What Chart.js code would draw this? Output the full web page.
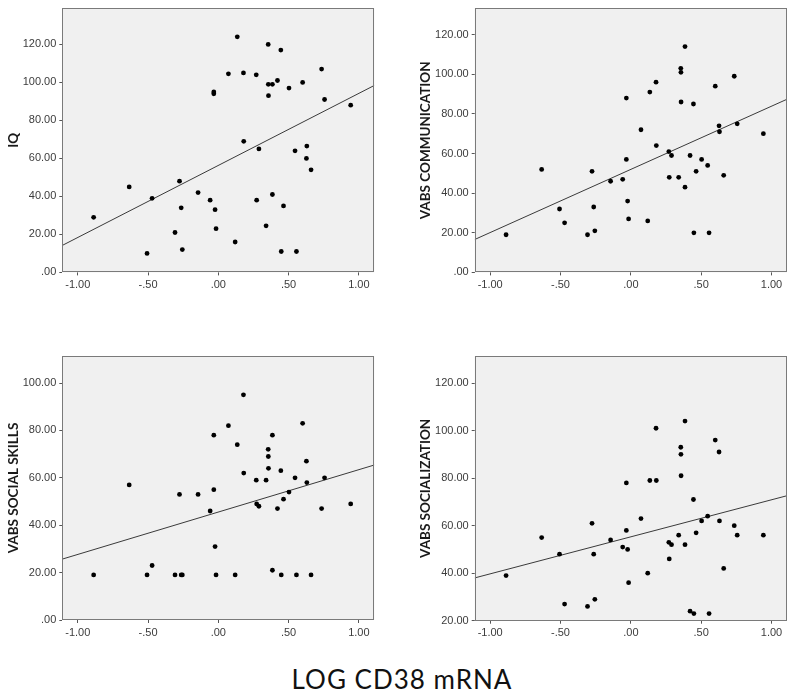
<!DOCTYPE html>
<html>
<head>
<meta charset="utf-8">
<title>CD38 scatter plots</title>
<script src="https://cdn.jsdelivr.net/npm/chart.js@4.4.1/dist/chart.umd.min.js"></script>
<style>
  body { margin: 0; background: #fff; }
  #wrap { position: relative; width: 798px; height: 696px; overflow: hidden; }
  #wrap canvas { position: absolute; }
  #xTitle {
    position: absolute; left: 3px; top: 666px; width: 798px;
    text-align: center; font-family: Lato, "Noto Sans", sans-serif;
    font-size: 26px; line-height: 26px; letter-spacing: 1px; color: #111;
  }
</style>
</head>
<body>
<div id="wrap">
  <canvas id="iqChart" width="399" height="300" style="left:0;top:0"></canvas>
  <canvas id="commChart" width="399" height="300" style="left:399px;top:0"></canvas>
  <canvas id="skillsChart" width="399" height="310" style="left:0;top:330px"></canvas>
  <canvas id="socChart" width="399" height="310" style="left:399px;top:330px"></canvas>
  <div id="xTitle">LOG CD38 mRNA</div>
</div>
<script>
// log CD38 mRNA, one value per subject (shared by all four panels)
const logCD38 = [-0.887, -0.634, -0.507, -0.471, -0.308, -0.276, -0.264, -0.256, -0.144, -0.058,
  -0.032, -0.032, -0.023, -0.016, 0.072, 0.12, 0.135, 0.179, 0.181, 0.27,
  0.273, 0.289, 0.34, 0.355, 0.356, 0.357, 0.385, 0.385, 0.421, 0.445,
  0.448, 0.464, 0.503, 0.546, 0.556, 0.6, 0.627, 0.63, 0.66, 0.735,
  0.756, 0.942];

const iq = [29, 45, 10, 39, 21, 48, 34, 12, 42, 38,
  95, 94, 33, 23, 104.5, 16, 124, 105, 69, 104,
  38, 65, 24.5, 120, 99, 93, 99, 41, 101, 117,
  11, 35, 97, 64, 11, 100, 60, 66.5, 54, 107,
  91, 88];

const vabsComm = [19, 52, 32, 25, 19, 51, 33, 21, 46, 47,
  88, 57, 36, 27, 72, 26, 91, 96, 64, 61,
  48, 59, 48, 103, 101, 86, 114, 43, 59, 85,
  20, 51, 57, 54, 20, 94, 74, 71, 49, 99,
  75, 70];

const vabsSkills = [19, 57, 19, 23, 19, 53, 19, 19, 53, 46,
  78, 55, 31, 19, 82, 19, 74, 95, 62, 59,
  49, 48, 59, 72, 69, 64, 78, 21, 47, 63,
  19, 51, 54, 60, 19, 83, 67, 58, 19, 47,
  60, 49];

const vabsSoc = [39, 55, 48, 27, 26, 61, 48, 29, 54, 51,
  78, 58, 50, 36, 63, 40, 79, 101, 79, 53,
  46, 52, 56, 93, 90, 81, 104, 52, 24, 71,
  23, 57, 62, 64, 23, 96, 91, 62, 42, 60,
  56, 56];

// fit line end values, read at the left and right plot edges
const fitX = [-1.11, 1.11];
const iqFit = [14.2, 98.4];
const commFit = [16.6, 87.4];
const skillsFit = [25.7, 65.4];
const socFit = [38.0, 72.6];

// tick values
const xTicks = [-1, -0.5, 0, 0.5, 1];
const iqTicks = [0, 20, 40, 60, 80, 100, 120];
const commTicks = [0, 20, 40, 60, 80, 100, 120];
const skillsTicks = [0, 20, 40, 60, 80, 100];
const socTicks = [20, 40, 60, 80, 100, 120];

// SPSS style: 0.50 -> .50, -0.50 -> -.50
function spssLabel(v) {
  return Number(v).toFixed(2).replace(/^(-?)0\./, '$1.');
}

// a narrow bold face is closest to the original axis titles, use it if installed
function hasFont(name) {
  const c = document.createElement('canvas').getContext('2d');
  c.font = '20px monospace';
  const base = c.measureText('VABS COMMUNICATION').width;
  c.font = '20px "' + name + '", monospace';
  return c.measureText('VABS COMMUNICATION').width !== base;
}
const titleFont = hasFont('Liberation Sans Narrow')
  ? { family: '"Liberation Sans Narrow"', size: 15.4, weight: 'bold' }
  : { family: 'Lato, "Open Sans", sans-serif', size: 13.5, weight: 'bold' };

const plotFrame = {
  id: 'plotFrame',
  beforeDatasetsDraw(chart) {
    const { ctx, chartArea: a } = chart;
    ctx.save();
    ctx.fillStyle = '#f0f0f0';
    ctx.fillRect(a.left, a.top, a.right - a.left, a.bottom - a.top);
    ctx.restore();
  },
  afterDraw(chart) {
    const { ctx, chartArea: a } = chart;
    ctx.save();
    ctx.strokeStyle = '#7a7a7a';
    ctx.lineWidth = 1;
    ctx.strokeRect(Math.round(a.left) + 0.5, Math.round(a.top) + 0.5,
      Math.round(a.right - a.left) - 1, Math.round(a.bottom - a.top) - 1);
    ctx.restore();
  }
};

const tickFont = { family: '"Liberation Sans", Arial, sans-serif', size: 11 };

function makePanel(id, yValues, fitY, yTitle, yMin, yMax, yTicks, box) {
  const canvas = document.getElementById(id);
  const points = logCD38.map((x, i) => ({ x: x, y: yValues[i] }));
  const line = fitX.map((x, i) => ({ x: x, y: fitY[i] }));

  return new Chart(canvas, {
    type: 'scatter',
    data: {
      datasets: [
        {
          data: points,
          backgroundColor: '#000',
          borderWidth: 0,
          pointRadius: 2.4,
          pointHoverRadius: 2.4
        },
        {
          type: 'line',
          data: line,
          borderColor: '#3a3a3a',
          borderWidth: 1,
          pointRadius: 0,
          fill: false
        }
      ]
    },
    options: {
      responsive: false,
      animation: false,
      events: [],
      layout: {
        padding: { left: 0, top: box.top, right: canvas.width - box.right, bottom: 0 }
      },
      plugins: {
        legend: { display: false },
        tooltip: { enabled: false }
      },
      scales: {
        x: {
          type: 'linear',
          min: fitX[0],
          max: fitX[1],
          grid: { drawOnChartArea: false, tickLength: 3, color: '#555' },
          border: { display: false },
          afterBuildTicks: (s) => { s.ticks = xTicks.map(v => ({ value: v })); },
          afterFit: (s) => {
            s.height = canvas.height - box.bottom;
            s.paddingLeft = 0;
            s.paddingRight = 0;
          },
          ticks: {
            font: tickFont,
            color: '#3c3c3c',
            padding: 3,
            maxRotation: 0,
            callback: (v) => spssLabel(v)
          }
        },
        y: {
          type: 'linear',
          min: yMin,
          max: yMax,
          grid: { drawOnChartArea: false, tickLength: 3, color: '#555' },
          border: { display: false },
          afterBuildTicks: (s) => { s.ticks = yTicks.map(v => ({ value: v })); },
          afterFit: (s) => {
            s.width = box.left;
            s.paddingTop = 0;
            s.paddingBottom = 0;
          },
          ticks: {
            font: tickFont,
            color: '#3c3c3c',
            padding: 3,
            callback: (v) => spssLabel(v)
          },
          title: {
            display: true,
            text: yTitle,
            color: '#1a1a1a',
            font: titleFont,
            padding: { top: box.titleX - titleFont.size * 0.6, bottom: 0 }
          }
        }
      }
    },
    plugins: [plotFrame]
  });
}

makePanel('iqChart', iq, iqFit, 'IQ', 0, 139, iqTicks,
  { left: 62.3, top: 8.3, right: 374.3, bottom: 272.4, titleX: 13.7 });
makePanel('commChart', vabsComm, commFit, 'VABS COMMUNICATION', 0, 133.3, commTicks,
  { left: 75.7, top: 8.3, right: 388, bottom: 272.4, titleX: 26.7 });
makePanel('skillsChart', vabsSkills, skillsFit, 'VABS SOCIAL SKILLS', 0, 111.4, skillsTicks,
  { left: 62.3, top: 26, right: 374.3, bottom: 290, titleX: 13.5 });
makePanel('socChart', vabsSoc, socFit, 'VABS SOCIALIZATION', 20, 131.4, socTicks,
  { left: 75.7, top: 26, right: 388, bottom: 290.7, titleX: 26.7 });
</script>
</body>
</html>
